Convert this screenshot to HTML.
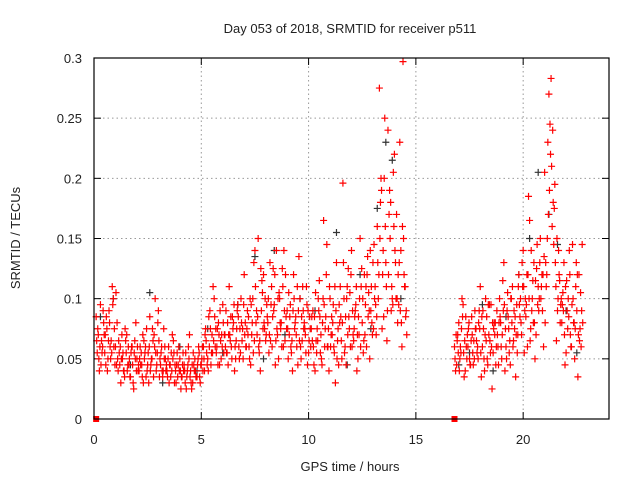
<!DOCTYPE html>
<html><head><meta charset="utf-8"><style>
html,body{margin:0;padding:0;background:#fff}
svg{display:block}
text{font-family:"Liberation Sans",Arial,sans-serif;font-size:13px;fill:#222}
</style></head><body>
<svg id="chart" width="640" height="480" xmlns="http://www.w3.org/2000/svg">
<text x="350" y="33" text-anchor="middle">Day 053 of 2018, SRMTID for receiver p511</text>
<text x="350" y="471" text-anchor="middle">GPS time / hours</text>
<text transform="translate(20,238) rotate(-90)" text-anchor="middle">SRMTID / TECUs</text>
<g id="grid"></g>
<g id="ticks"></g>
<g id="blackPts"></g>
<g id="redPts"></g>
<rect x="94" y="58" width="515" height="361" fill="none" stroke="#000" stroke-width="1.2"/>
</svg>
<script>
const xTicks=[0,5,10,15,20];
const yTicks=[0,0.05,0.1,0.15,0.2,0.25,0.3];
const yTickLabels=["0","0.05","0.1","0.15","0.2","0.25","0.3"];
const redHours=[0.1,0.2,0.3,0.4,0.5,0.6,0.7,0.8,0.9,1.0,1.1,1.2,1.3,1.4,1.5,1.6,1.7,1.8,1.9,2.0,2.1,2.2,2.3,2.4,2.5,2.6,2.7,2.8,2.9,3.0,3.1,3.2,3.3,3.4,3.5,3.6,3.7,3.8,3.9,4.0,4.1,4.2,4.3,4.4,4.5,4.6,4.7,4.8,4.9,5.0,5.1,5.2,5.3,5.4,5.5,5.6,5.7,5.8,5.9,6.0,6.1,6.2,6.3,6.4,6.5,6.6,6.7,6.8,6.9,7.0,7.1,7.2,7.3,7.4,7.5,7.6,7.7,7.8,7.9,8.0,8.1,8.2,8.3,8.4,8.5,8.6,8.7,8.8,8.9,9.0,9.1,9.2,9.3,9.4,9.5,9.6,9.7,9.8,9.9,10.0,10.1,10.2,10.3,10.4,10.5,10.6,10.7,10.8,10.9,11.0,11.1,11.2,11.3,11.4,11.5,11.6,11.7,11.8,11.9,12.0,12.1,12.2,12.3,12.4,12.5,12.6,12.7,12.8,12.9,13.0,13.1,13.2,13.3,13.4,13.5,13.6,13.7,13.8,13.9,14.0,14.1,14.2,14.3,14.4,14.5,
16.8,16.9,17.0,17.1,17.2,17.3,17.4,17.5,17.6,17.7,17.8,17.9,18.0,18.1,18.2,18.3,18.4,18.5,18.6,18.7,18.8,18.9,19.0,19.1,19.2,19.3,19.4,19.5,19.6,19.7,19.8,19.9,20.0,20.1,20.2,20.3,20.4,20.5,20.6,20.7,20.8,20.9,21.0,21.1,21.2,21.3,21.4,21.5,21.6,21.7,21.8,21.9,22.0,22.1,22.2,22.3,22.4,22.5,22.6,22.7];
const redMilliA=[85,70,95,60,55,75,90,65,100,60,50,45,70,40,55,60,35,45,65,50,40,55,30,60,45,85,50,70,40,90,45,35,60,40,30,55,65,40,35,50,35,45,25,60,40,30,50,35,55,45,60,75,50,90,70,100,55,80,65,95,70,55,110,60,80,50,95,75,65,120,60,85,45,100,140,70,55,90,120,65,80,130,60,95,140,50,75,110,65,90,70,55,120,85,45,100,65,80,110,55,60,90,40,75,115,50,165,85,60,100,70,55,130,45,85,196,60,110,75,140,65,95,50,150,80,120,60,105,90,130,110,160,275,190,85,130,240,150,100,220,170,95,140,297,110,
60,45,80,55,95,40,70,50,85,65,75,50,110,60,40,85,70,95,55,80,70,100,50,130,60,85,45,110,75,95,120,80,140,100,60,165,90,130,70,110,150,90,205,120,270,283,180,130,90,115,80,130,55,100,70,145,50,90,120,60];
const redMilliB=[55,40,65,80,45,50,60,110,75,45,65,30,55,75,40,50,60,25,80,40,60,35,50,75,30,45,65,100,55,35,60,75,40,50,45,70,30,45,60,25,55,30,40,70,25,45,35,50,30,60,40,55,85,45,110,60,75,45,70,55,90,45,65,85,40,75,60,100,50,80,90,50,70,130,80,150,40,105,75,95,55,95,125,45,70,100,60,140,85,50,95,40,75,60,135,50,90,70,45,85,85,45,65,100,55,80,60,145,40,70,95,30,65,80,50,100,45,125,60,90,85,40,70,110,55,95,135,50,80,145,70,100,180,120,250,65,170,90,205,130,80,230,60,120,90,
40,70,50,100,35,60,75,45,55,90,55,90,35,75,100,45,65,25,80,60,45,80,115,40,90,55,100,65,35,70,85,130,55,95,185,75,115,50,145,100,110,60,130,230,245,160,175,65,140,95,105,45,90,140,60,80,110,35,75,145];
const redMilliC=[65,50,45,90,70,40,80,55,60,105,40,60,50,35,70,45,55,30,50,60,50,45,65,35,55,40,75,60,45,65,55,40,50,35,45,40,55,30,45,40,45,40,35,50,30,55,40,45,35,50,50,65,40,75,55,85,60,70,50,80,60,80,70,50,95,65,85,55,75,70,75,60,95,55,110,85,65,115,80,70,100,65,85,120,75,105,80,60,120,75,85,65,100,70,90,60,110,75,95,65,75,60,105,65,85,45,95,120,75,60,80,110,50,95,65,130,85,70,105,60,75,110,85,60,100,70,120,90,110,75,95,130,150,75,200,110,120,180,95,140,100,130,80,150,85,
50,65,40,75,55,85,60,45,70,50,65,80,55,90,70,50,95,60,75,45,60,85,70,95,50,75,100,60,85,55,95,70,110,85,120,65,100,80,125,90,100,120,80,150,190,210,145,110,100,80,95,70,115,85,60,100,75,120,65,90];
const redMilliD=[75,60,55,70,85,65,50,95,45,80,55,50,40,65,45,35,60,55,40,45,45,70,55,40,60,50,35,55,80,50,40,50,45,60,35,50,45,55,40,35,40,55,45,35,45,40,35,60,45,40,70,45,60,55,65,75,45,90,60,70,55,70,85,75,60,90,50,80,95,60,70,100,80,65,90,60,125,75,100,85,70,110,90,65,100,80,125,90,75,105,60,90,80,110,65,85,75,55,90,75,65,85,55,90,70,100,75,60,110,85,60,90,75,110,80,55,100,85,120,70,90,70,100,125,65,110,85,140,70,100,85,120,200,140,160,90,190,110,160,100,120,90,160,110,70,
70,55,60,85,65,50,80,65,45,75,60,75,85,50,65,95,55,80,70,90,80,60,90,75,105,65,80,90,70,110,100,110,90,120,100,140,80,115,95,130,120,135,110,170,220,240,195,150,120,100,90,110,75,120,95,80,130,70,105,80];
const blackHours=[0.3,0.9,1.7,2.6,3.2,4.0,4.8,5.3,6.0,6.7,7.5,7.9,8.4,8.9,9.6,10.3,10.9,11.3,11.8,12.4,12.9,13.2,13.6,13.9,14.3,17.0,17.5,18.1,18.6,19.2,19.8,20.3,20.7,21.2,21.6,22.0,22.5];
const blackMilli=[85,100,45,105,30,60,40,75,55,95,135,50,140,70,100,90,60,155,45,120,75,175,230,215,100,45,55,95,40,85,120,150,205,170,145,90,55];
const zeroHours=[0.1,16.8];

const NS="http://www.w3.org/2000/svg";
const X0=94,X1=609,Y0=419,Y1=58,XMAX=24,YMAX=0.3;
function xs(h){return X0+(X1-X0)*h/XMAX;}
function ys(v){return Y0-(Y0-Y1)*v/YMAX;}
function mk(tag,attrs,parent){const e=document.createElementNS(NS,tag);for(const k in attrs)e.setAttribute(k,attrs[k]);parent.appendChild(e);return e;}
const grid=document.getElementById('grid'),ticks=document.getElementById('ticks');
xTicks.forEach((t,i)=>{
  const x=xs(t);
  if(t>0){const g=mk('line',{x1:x,x2:x,y1:Y0,y2:Y1,stroke:'#999','stroke-dasharray':'1.5,3','stroke-width':1},grid);
  
  }
  mk('line',{x1:x,x2:x,y1:Y0,y2:Y0-7,stroke:'#000'},ticks);
  mk('line',{x1:x,x2:x,y1:Y1,y2:Y1+7,stroke:'#000'},ticks);
  const tx=mk('text',{x:x,y:Y0+25,'text-anchor':'middle'},ticks);tx.textContent=String(t);
  
  
});
yTicks.forEach((t,i)=>{
  const y=ys(t);
  if(t>0&&t<YMAX){const g=mk('line',{x1:X0,x2:X1,y1:y,y2:y,stroke:'#999','stroke-dasharray':'1.5,3','stroke-width':1},grid);
  
  }
  mk('line',{x1:X0,x2:X0+7,y1:y,y2:y,stroke:'#000'},ticks);
  mk('line',{x1:X1,x2:X1-7,y1:y,y2:y,stroke:'#000'},ticks);
  const tx=mk('text',{x:X0-12,y:y+5,'text-anchor':'end'},ticks);tx.textContent=yTickLabels[i];
  
  
});
function plus(parent,h,v,col,name){
  const x=xs(h),y=ys(v/1000);
  const p=mk('path',{d:`M${x-3.5},${y}H${x+3.5}M${x},${y-3.5}V${y+3.5}`,stroke:col,'stroke-width':1.2,fill:'none'},parent);
  
  
}
const bp=document.getElementById('blackPts'),rp=document.getElementById('redPts');
blackHours.forEach((h,i)=>plus(bp,h,blackMilli[i],'#333','black-point'));
redHours.forEach((h,i)=>{
  plus(rp,h,redMilliA[i],'#f00','red-point');
  plus(rp,h+0.025,redMilliC[i],'#f00','red-point');
  plus(rp,h+0.05,redMilliB[i],'#f00','red-point');
  plus(rp,h+0.075,redMilliD[i],'#f00','red-point');
});
zeroHours.forEach(h=>{
  const r=mk('rect',{x:xs(h)-3,y:ys(0)-3,width:6,height:6,fill:'#f00'},rp);
  
  
});
</script>
</body></html>
